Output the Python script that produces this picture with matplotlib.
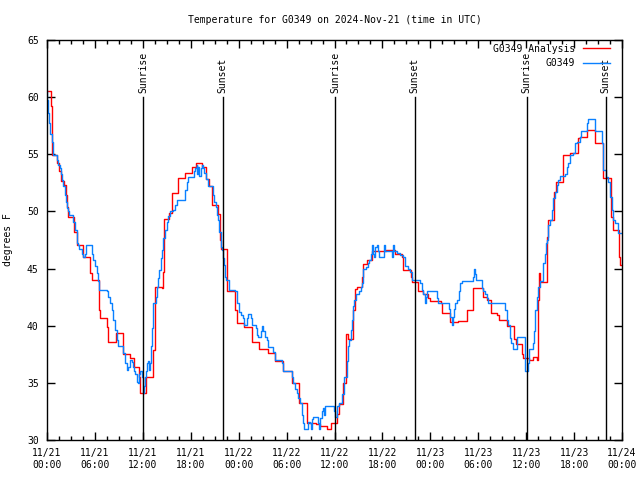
import numpy as np
import matplotlib
matplotlib.use("Agg")
import matplotlib.pyplot as plt
from matplotlib.ticker import MultipleLocator

# (hours since 2024-11-21 00:00 UTC, deg F) step breakpoints
anl_steps = [
    (0, 60.5), (0.5, 59.2), (0.6, 54.9), (1.3, 54.2), (1.5, 53.5), (1.7, 52.7), (2.1, 52.3),
    (2.4, 51.4), (2.5, 50.4), (2.6, 49.5), (3.4, 48.2), (3.7, 47.1), (4.5, 46.0), (5.4, 44.6),
    (5.6, 44.0), (6.5, 41.4), (6.6, 40.7), (7.5, 39.9), (7.7, 38.6), (8.6, 39.4), (9.5, 37.5),
    (10.4, 37.2), (10.9, 36.4), (11.5, 35.5), (11.7, 34.1), (12.45, 35.5), (13.3, 37.9),
    (13.5, 43.4), (14.4, 43.3), (14.5, 44.7), (14.6, 47.8), (14.7, 49.3), (15.3, 49.9),
    (15.6, 51.6), (16.4, 52.9), (17.3, 53.4), (18.2, 53.9), (18.7, 54.2), (19.4, 53.9),
    (19.9, 52.8), (20.3, 52.2), (20.6, 50.6), (21.4, 49.8), (21.65, 47.5), (21.8, 46.7),
    (22.5, 43.0), (23.54, 41.4), (23.83, 40.2), (24.67, 39.9), (25.63, 38.6), (26.59, 38.0),
    (27.7, 37.6), (28.55, 36.9), (29.6, 36.0), (30.63, 35.0), (31.6, 33.2), (32.6, 31.5),
    (33.68, 31.4), (34.19, 31.2), (35.1, 31.0), (35.52, 31.5), (36.27, 32.3), (36.6, 33.15),
    (37.1, 35.0), (37.5, 39.3), (37.7, 38.8), (38.36, 41.4), (38.6, 43.2), (38.8, 43.4),
    (39.4, 44.3), (39.6, 45.4), (40.1, 45.75), (40.65, 46.5), (42.5, 46.6), (43.6, 46.3),
    (44.4, 46.0), (44.6, 44.9), (45.55, 44.3), (45.66, 43.8), (46.5, 43.0), (47.1, 42.8),
    (47.75, 42.4), (47.96, 42.2), (49.3, 42.0), (49.5, 41.1), (50.46, 40.3), (51.5, 40.4),
    (52.55, 41.4), (53.4, 43.3), (54.64, 42.5), (55.14, 42.25), (55.55, 41.1), (56.39, 40.9),
    (56.64, 40.5), (57.56, 40.0), (58.48, 38.8), (58.73, 38.4), (59.44, 37.5), (59.65, 37.15),
    (60.4, 37.0), (60.9, 37.3), (61.4, 37.0), (61.52, 42.25), (61.6, 44.6), (61.7, 43.85),
    (62.57, 47.8), (62.69, 49.25), (63.53, 51.7), (63.74, 52.6), (64.57, 54.9), (65.49, 55.1),
    (66.53, 56.4), (66.74, 56.5), (67.58, 57.1), (68.6, 56.0), (69.57, 52.9), (70.58, 49.5),
    (70.83, 48.4), (71.63, 46.0), (71.75, 45.3), (72, 45.3),
]

obs_steps = [
    (0, 60.5), (0.04, 59.75), (0.17, 58.6), (0.29, 57.7), (0.37, 56.8), (0.58, 56.1),
    (0.71, 55.7), (0.79, 54.9), (1.21, 54.5), (1.42, 54.1), (1.63, 53.8), (1.71, 53.3),
    (1.84, 52.75), (2.05, 52.2), (2.25, 51.4), (2.38, 50.85), (2.55, 50.3), (2.67, 50.0),
    (2.76, 49.7), (3.3, 49.1), (3.5, 48.4), (3.71, 47.2), (3.84, 47.1), (4.05, 46.7),
    (4.34, 46.3), (4.55, 46.0), (4.76, 46.3), (4.88, 47.1), (5.59, 46.3), (5.8, 45.75),
    (6.01, 45.2), (6.22, 44.6), (6.43, 43.9), (6.55, 43.1), (7.47, 43.0), (7.68, 42.5),
    (7.89, 41.95), (8.1, 41.4), (8.3, 40.5), (8.52, 39.6), (8.72, 38.75), (8.93, 38.2),
    (9.47, 38.1), (9.56, 37.6), (9.77, 36.7), (9.97, 36.1), (10.18, 36.4), (10.39, 37.0),
    (10.6, 36.85), (10.73, 36.4), (10.89, 36.0), (11.02, 35.8), (11.23, 35.1), (11.44, 35.0),
    (11.56, 35.8), (11.64, 36.0), (11.85, 35.5), (11.98, 34.1), (12.15, 34.7), (12.27, 35.5),
    (12.4, 36.0), (12.56, 36.7), (12.69, 36.9), (12.81, 36.1), (12.9, 36.7), (13.02, 38.2),
    (13.15, 39.8), (13.31, 42.0), (13.61, 42.5), (13.73, 43.4), (13.94, 44.15), (14.07, 44.9),
    (14.23, 45.9), (14.4, 46.6), (14.57, 47.65), (14.78, 48.4), (14.98, 49.1), (15.19, 49.6),
    (15.4, 50.0), (15.82, 50.1), (16.03, 50.6), (16.32, 51.0), (17.28, 51.9), (17.49, 52.6),
    (17.7, 53.0), (18.41, 53.5), (18.53, 53.8), (18.74, 54.1), (18.83, 53.3), (18.95, 53.9),
    (19.07, 53.1), (19.28, 53.8), (19.37, 54.1), (19.49, 53.8), (19.7, 53.4), (19.87, 52.8),
    (20.2, 52.2), (20.74, 51.4), (20.9, 50.8), (21.15, 50.4), (21.32, 49.7), (21.45, 49.25),
    (21.57, 48.2), (21.74, 46.9), (21.87, 46.6), (21.99, 45.9), (22.16, 45.3), (22.29, 44.3),
    (22.41, 44.0), (22.83, 43.1), (23.54, 43.0), (23.83, 42.0), (24.0, 41.7), (24.09, 41.2),
    (24.25, 40.9), (24.5, 40.65), (24.67, 40.1), (25.08, 40.7), (25.2, 41.0), (25.5, 40.7),
    (25.63, 40.1), (26.17, 39.8), (26.33, 39.2), (26.46, 39.0), (26.8, 39.5), (26.96, 40.0),
    (27.09, 39.5), (27.3, 39.0), (27.5, 38.75), (27.7, 38.1), (28.35, 37.7), (28.55, 37.0),
    (29.4, 36.7), (29.6, 36.0), (30.63, 35.5), (30.85, 34.96), (31.05, 34.5), (31.26, 34.1),
    (31.47, 33.7), (31.68, 33.2), (31.89, 32.2), (32.1, 31.5), (32.22, 31.0), (32.73, 31.6),
    (32.93, 31.5), (33.02, 31.0), (33.14, 31.8), (33.36, 32.0), (33.9, 31.5), (34.06, 31.0),
    (34.19, 31.9), (34.4, 32.5), (34.52, 32.8), (34.69, 32.2), (34.81, 33.0), (35.98, 32.5),
    (36.1, 32.0), (36.27, 32.5), (36.35, 33.0), (36.6, 33.2), (36.9, 34.0), (37.2, 35.5),
    (37.52, 36.9), (37.73, 38.2), (37.86, 38.75), (38.02, 39.6), (38.15, 40.5), (38.36, 41.7),
    (38.49, 42.25), (38.7, 42.8), (39.1, 43.0), (39.28, 43.4), (39.4, 43.7), (39.53, 44.9),
    (39.61, 45.0), (40.0, 45.1), (40.24, 45.5), (40.36, 45.75), (40.53, 46.3), (40.74, 47.1),
    (40.86, 46.3), (40.99, 46.0), (41.07, 46.9), (41.28, 47.1), (41.4, 46.5), (41.61, 46.0),
    (42.2, 47.1), (42.3, 46.5), (43.16, 46.0), (43.37, 47.1), (43.49, 46.5), (43.8, 46.4),
    (44.2, 46.2), (44.6, 46.0), (44.83, 45.2), (45.25, 45.0), (45.45, 44.7), (45.66, 44.0),
    (46.71, 43.7), (46.92, 43.1), (47.12, 42.8), (47.33, 41.96), (47.46, 42.5), (47.54, 43.0),
    (48.88, 42.4), (49.0, 42.0), (50.38, 41.5), (50.46, 40.8), (50.67, 40.1), (50.8, 40.8),
    (50.97, 41.5), (51.09, 41.96), (51.3, 42.25), (51.63, 43.0), (51.72, 43.7), (51.93, 43.94),
    (53.3, 44.3), (53.47, 45.0), (53.6, 44.5), (53.72, 44.0), (54.43, 43.3), (54.64, 43.0),
    (54.85, 42.8), (55.06, 42.4), (55.27, 42.0), (57.35, 41.4), (57.56, 40.5), (57.77, 40.1),
    (57.97, 38.9), (58.1, 38.5), (58.39, 38.0), (58.8, 39.0), (59.8, 37.2), (59.9, 36.0),
    (60.2, 36.7), (60.35, 38.0), (60.85, 38.5), (60.98, 39.5), (61.11, 41.4), (61.32, 42.5),
    (61.52, 43.4), (61.73, 43.9), (62.15, 45.5), (62.36, 46.3), (62.49, 47.2), (62.57, 47.5),
    (62.78, 48.8), (62.99, 49.25), (63.2, 50.1), (63.4, 51.15), (63.61, 51.7), (63.82, 52.3),
    (64.03, 52.75), (64.24, 53.1), (64.86, 53.3), (65.07, 53.9), (65.28, 54.2), (65.49, 54.9),
    (65.82, 55.1), (66.12, 56.0), (66.33, 56.1), (66.74, 56.5), (66.83, 57.0), (67.58, 57.7),
    (67.79, 58.06), (68.6, 57.0), (69.45, 56.0), (69.66, 53.6), (70.0, 53.0), (70.3, 52.6),
    (70.5, 51.3), (70.7, 50.1), (70.92, 49.25), (71.13, 49.0), (71.55, 48.1), (72, 48.1),
]

sunrise_hours = [12.03, 36.05, 60.07]
sunset_hours = [22.0, 46.03, 69.97]
tick_labels = ['11/21\n00:00', '11/21\n06:00', '11/21\n12:00', '11/21\n18:00',
               '11/22\n00:00', '11/22\n06:00', '11/22\n12:00', '11/22\n18:00',
               '11/23\n00:00', '11/23\n06:00', '11/23\n12:00', '11/23\n18:00',
               '11/24\n00:00']

anl_hours, anl_temp = zip(*anl_steps)
obs_hours, obs_temp = zip(*obs_steps)

plt.rcParams['font.family'] = 'DejaVu Sans Mono'
plt.rcParams['font.size'] = 7

fig = plt.figure(figsize=(6.4, 4.8), dpi=100)
ax = fig.add_axes([47/640, 40/480, 575/640, 400/480])

ax.plot(anl_hours, anl_temp, drawstyle='steps-post', color='#ff0000', lw=1,
        label='G0349 Analysis')
ax.plot(obs_hours, obs_temp, drawstyle='steps-post', color='#0a80ff', lw=1,
        label='G0349')

for h in sunrise_hours:
    ax.plot([h, h], [30, 60], color='black', lw=1)
    ax.text(h, 60.4, 'Sunrise', rotation=90, ha='center', va='bottom')
for h in sunset_hours:
    ax.plot([h, h], [30, 60], color='black', lw=1)
    ax.text(h, 60.4, 'Sunset', rotation=90, ha='center', va='bottom')

ax.set_xlim(0, 72)
ax.set_ylim(30, 65)
ax.set_xticks(np.arange(0, 73, 6))
ax.set_xticklabels(tick_labels)
ax.xaxis.set_minor_locator(MultipleLocator(1.5))
ax.set_yticks(np.arange(30, 66, 5))
ax.tick_params(which='both', direction='in', top=True, right=True, width=1, pad=6)
ax.tick_params(which='major', length=6)
ax.tick_params(which='minor', length=3)
for s in ax.spines.values():
    s.set_linewidth(1)

ax.set_ylabel('degrees F', labelpad=10)
ax.set_title('Temperature for G0349 on 2024-Nov-21 (time in UTC)', fontsize=7, pad=12)

ax.legend(loc='upper right', bbox_to_anchor=(0.986, 1.0), frameon=False,
          markerfirst=False, handlelength=2.8, borderaxespad=0, labelspacing=0.45,
          handletextpad=0.8)

fig.savefig('out.png', dpi=100)
